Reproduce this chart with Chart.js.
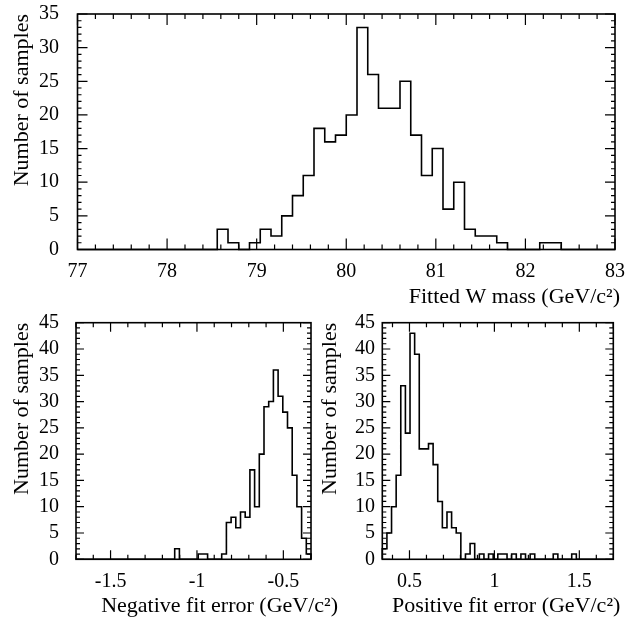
<!DOCTYPE html>
<html>
<head>
<meta charset="utf-8">
<script src="https://cdn.jsdelivr.net/npm/chart.js@4.4.1/dist/chart.umd.min.js"></script>
<style>
  html, body { margin: 0; padding: 0; background: #fff; }
  #wrap { position: relative; width: 625px; height: 623px; overflow: hidden; }
  canvas { position: absolute; }
</style>
</head>
<body>
<div id="wrap">
  <canvas id="massChart" width="625" height="310" style="left:0;top:0"></canvas>
  <canvas id="negChart" width="345" height="323" style="left:0;top:300px"></canvas>
  <canvas id="posChart" width="313" height="323" style="left:312px;top:300px"></canvas>
</div>
<script>
// Histogram contents, 50 bins each
const MASS_LO = 77, MASS_HI = 83, MASS_BIN = 0.12;
const massCounts = [
  0, 0, 0, 0, 0, 0, 0, 0, 0, 0,
  0, 0, 0, 3, 1, 0, 1, 3, 2, 5,
  8, 11, 18, 16, 17, 20, 33, 26, 21, 21,
  25, 17, 11, 15, 6, 10, 3, 2, 2, 1,
  0, 0, 0, 1, 1, 0, 0, 0, 0, 0
];
const massXTicks = [77, 78, 79, 80, 81, 82, 83];
const massYTicks = [0, 5, 10, 15, 20, 25, 30, 35];

const NEG_LO = -1.7, NEG_HI = -0.34, NEG_BIN = 0.0272;
const negCounts = [
  0, 0, 0, 0, 0, 0, 0, 0, 0, 0,
  0, 0, 0, 0, 0, 0, 0, 0, 0, 0,
  0, 2, 0, 0, 0, 0, 1, 1, 0, 0,
  0, 1, 7, 8, 6, 9, 8, 17, 10, 20,
  29, 30, 36, 31, 28, 25, 16, 10, 4, 1
];
const negXTicks = [-1.5, -1, -0.5];

const POS_LO = 0.34, POS_HI = 1.7, POS_BIN = 0.0272;
const posCounts = [
  2, 5, 10, 16, 33, 24, 43, 39, 21, 21,
  22, 18, 11, 6, 9, 6, 5, 0, 1, 3,
  0, 1, 0, 1, 0, 1, 1, 0, 1, 0,
  1, 0, 1, 0, 0, 0, 0, 1, 0, 0,
  0, 1, 0, 0, 0, 0, 0, 0, 0, 0
];
const posXTicks = [0.5, 1, 1.5];
const errYTicks = [0, 5, 10, 15, 20, 25, 30, 35, 40, 45];

const SERIF = "'Liberation Serif', 'Times New Roman', serif";
Chart.defaults.font.family = SERIF;
Chart.defaults.color = '#000';

// outline of a histogram: start and end on the baseline
function histOutline(lo, bin, counts) {
  const pts = [{ x: lo, y: 0 }];
  counts.forEach((c, i) => pts.push({ x: lo + i * bin, y: c }));
  const hi = lo + counts.length * bin;
  pts.push({ x: hi, y: counts[counts.length - 1] }, { x: hi, y: 0 });
  return pts;
}

// PAW-style box: frame, inward ticks on all four sides, right-aligned x title
const paperFrame = {
  id: 'paperFrame',
  afterDraw(chart, args, o) {
    const { ctx, chartArea: a, scales: { x, y } } = chart;
    const marks = (scale, minor, major) => {
      const out = [];
      const n0 = Math.ceil(scale.min / minor - 1e-6);
      const n1 = Math.floor(scale.max / minor + 1e-6);
      for (let n = n0; n <= n1; n++) {
        const r = (n * minor) / major;
        out.push({ p: scale.getPixelForValue(n * minor), big: Math.abs(r - Math.round(r)) < 1e-6 });
      }
      return out;
    };
    ctx.save();
    ctx.strokeStyle = '#000';
    ctx.lineWidth = 1.2;
    ctx.beginPath();
    marks(x, o.xMinor, o.xMajor).forEach(({ p, big }) => {
      const len = big ? o.xMajLen : o.xMinLen;
      ctx.moveTo(p, a.bottom); ctx.lineTo(p, a.bottom - len);
      ctx.moveTo(p, a.top); ctx.lineTo(p, a.top + len);
    });
    marks(y, o.yMinor, o.yMajor).forEach(({ p, big }) => {
      const len = big ? o.yMajLen : o.yMinLen;
      ctx.moveTo(a.left, p); ctx.lineTo(a.left + len, p);
      ctx.moveTo(a.right, p); ctx.lineTo(a.right - len, p);
    });
    ctx.stroke();
    ctx.lineWidth = 1.6;
    ctx.strokeRect(a.left, a.top, a.width, a.height);

    ctx.font = '22px ' + SERIF;
    ctx.fillStyle = '#000';
    ctx.textAlign = 'right';
    ctx.textBaseline = 'middle';
    ctx.fillText(o.xTitle, a.right + o.xTitleDx, o.xTitleY);
    ctx.restore();
  }
};

function makeHist(id, c) {
  return new Chart(document.getElementById(id), {
    type: 'line',
    data: {
      datasets: [{
        data: histOutline(c.lo, c.bin, c.counts),
        borderColor: '#000',
        borderWidth: 1.6,
        stepped: 'before',
        pointRadius: 0,
        fill: false,
        clip: false
      }]
    },
    options: {
      responsive: false,
      animation: false,
      events: [],
      layout: { padding: c.pad },
      plugins: {
        legend: { display: false },
        tooltip: { enabled: false },
        paperFrame: c.frame
      },
      scales: {
        x: {
          type: 'linear',
          min: c.lo,
          max: c.hi,
          grid: { display: false, drawTicks: false },
          border: { display: false },
          // fixed box, and no extra room for the end labels
          afterFit: s => { s.height = c.xAxisH; s.paddingLeft = 0; s.paddingRight = 0; },
          afterBuildTicks: s => { s.ticks = c.xTicks.map(v => ({ value: v })); },
          ticks: {
            padding: c.xTickPad,
            font: { size: 20 },
            color: '#000',
            maxRotation: 0,
            autoSkip: false,
            callback: v => String(v)
          }
        },
        y: {
          type: 'linear',
          min: 0,
          max: c.yTicks[c.yTicks.length - 1],
          grid: { display: false, drawTicks: false },
          border: { display: false },
          afterFit: s => { s.width = c.yAxisW; s.paddingTop = 0; s.paddingBottom = 0; },
          afterBuildTicks: s => { s.ticks = c.yTicks.map(v => ({ value: v })); },
          ticks: {
            padding: c.yTickPad,
            font: { size: 20 },
            color: '#000',
            autoSkip: false,
            callback: v => String(v)
          },
          title: {
            display: true,
            text: 'Number of samples',
            align: 'end',
            color: '#000',
            font: { size: 22 },
            padding: { top: c.yTitlePad, bottom: 0 }
          }
        }
      }
    },
    plugins: [paperFrame]
  });
}

makeHist('massChart', {
  lo: MASS_LO, hi: MASS_HI, bin: MASS_BIN, counts: massCounts,
  xTicks: massXTicks, yTicks: massYTicks,
  pad: { top: 14, right: 10, bottom: 0, left: 0 },
  xAxisH: 60.5, yAxisW: 77.5, xTickPad: 10.5, yTickPad: 18.5, yTitlePad: 8.8,
  frame: {
    xMinor: 0.2, xMajor: 1, yMinor: 1, yMajor: 5,
    xMajLen: 11, xMinLen: 5, yMajLen: 10, yMinLen: 4,
    xTitle: 'Fitted W mass (GeV/c²)', xTitleDx: 5, xTitleY: 297
  }
});

makeHist('negChart', {
  lo: NEG_LO, hi: NEG_HI, bin: NEG_BIN, counts: negCounts,
  xTicks: negXTicks, yTicks: errYTicks,
  pad: { top: 22.7, right: 34, bottom: 0, left: 0 },
  xAxisH: 63.7, yAxisW: 76, xTickPad: 10, yTickPad: 17, yTitlePad: 8.8,
  frame: {
    xMinor: 0.1, xMajor: 0.5, yMinor: 1, yMajor: 5,
    xMajLen: 9, xMinLen: 4.5, yMajLen: 8, yMinLen: 4,
    xTitle: 'Negative fit error (GeV/c²)', xTitleDx: 27, xTitleY: 306
  }
});

makeHist('posChart', {
  lo: POS_LO, hi: POS_HI, bin: POS_BIN, counts: posCounts,
  xTicks: posXTicks, yTicks: errYTicks,
  pad: { top: 22.7, right: 11.7, bottom: 0, left: 0 },
  xAxisH: 63.7, yAxisW: 70.3, xTickPad: 10, yTickPad: 7.3, yTitlePad: 4.8,
  frame: {
    xMinor: 0.1, xMajor: 0.5, yMinor: 1, yMajor: 5,
    xMajLen: 9, xMinLen: 4.5, yMajLen: 8, yMinLen: 4,
    xTitle: 'Positive fit error (GeV/c²)', xTitleDx: 7, xTitleY: 306
  }
});
</script>
</body>
</html>
